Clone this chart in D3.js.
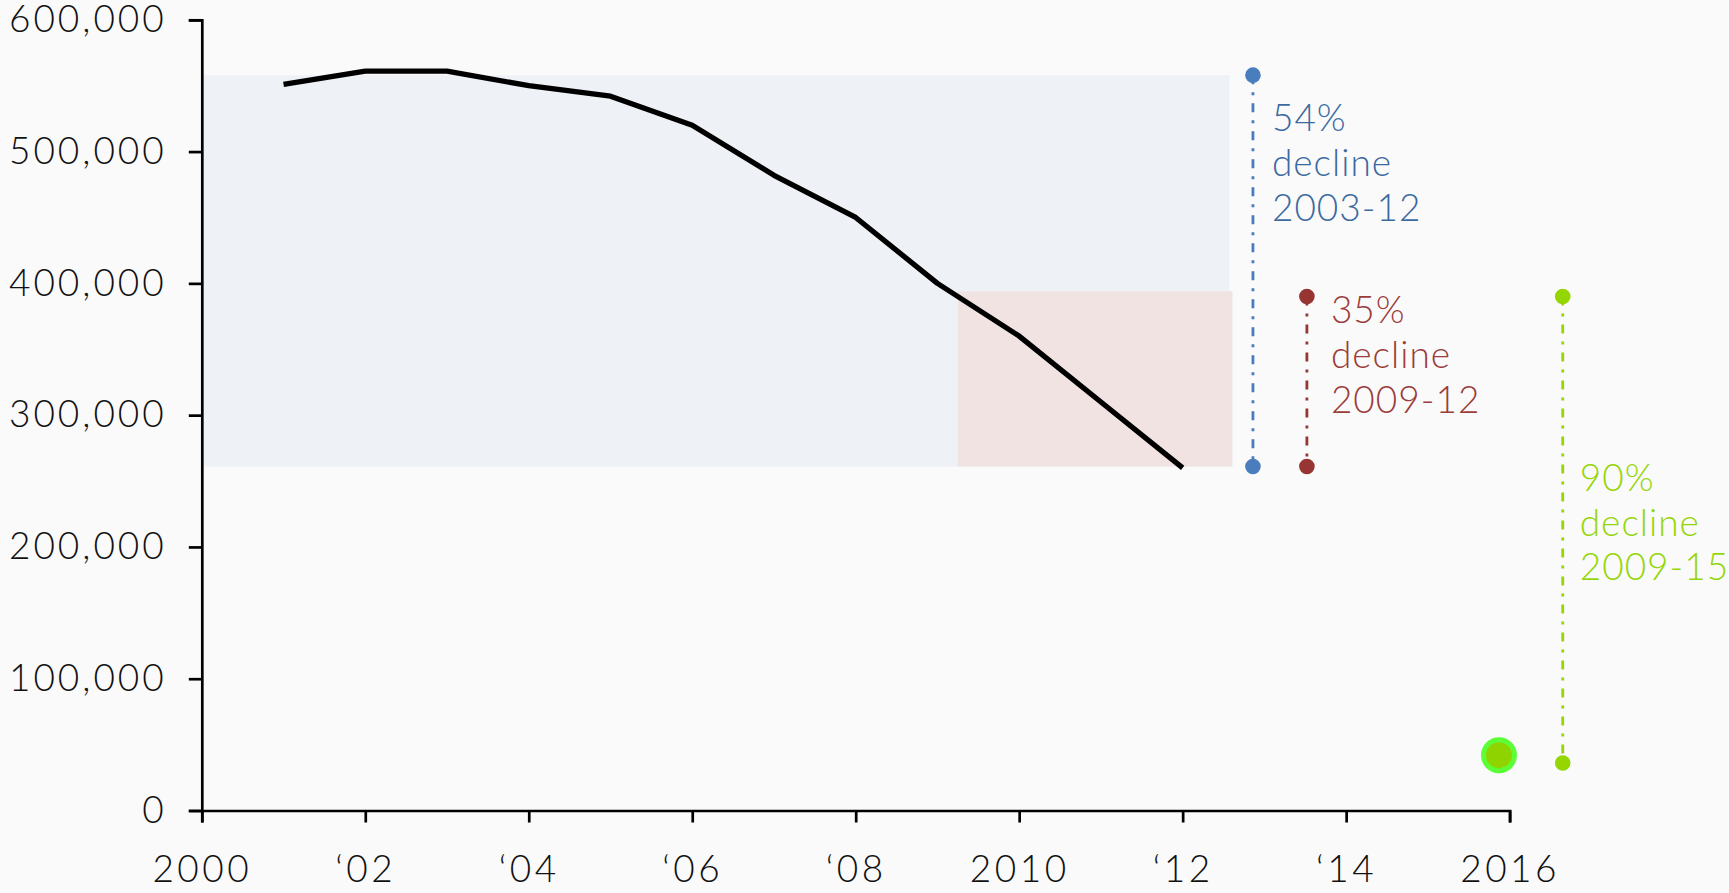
<!DOCTYPE html>
<html>
<head>
<meta charset="utf-8">
<script src="https://cdn.jsdelivr.net/npm/d3@7"></script>
<style>
  html, body { margin: 0; padding: 0; background: #fafafa; }
  svg { display: block; }
  text { font-family: Lato, "Open Sans", sans-serif; font-weight: 300; }
</style>
</head>
<body>
<svg id="chart" width="1729" height="893"></svg>
<script>
// ---- data ----
const years = [2001, 2002, 2003, 2004, 2005, 2006, 2007, 2008, 2009, 2010, 2011, 2012];
const values = [551000, 561000, 561000, 550000, 542000, 520000, 482000, 450000, 400000, 360000, 310000, 260000];

const yTicks = [0, 100000, 200000, 300000, 400000, 500000, 600000];
const xTicks = [2000, 2002, 2004, 2006, 2008, 2010, 2012, 2014, 2016];
const xTickLabels = ["2000", "\u201802", "\u201804", "\u201806", "\u201808", "2010", "\u201812", "\u201814", "2016"];

// shaded periods
const bandStart = [2000, 2009.25];
const bandEnd = [2012.57, 2012.61];
const bandLow = [261000, 261000];
const bandHigh = [558000, 394000];

// decline annotations
const annoPct = ["54%", "35%", "90%"];
const annoWord = ["decline", "decline", "decline"];
const annoPeriod = ["2003-12", "2009-12", "2009-15"];
const annoX = [2012.86, 2013.52, 2016.65];
const annoTop = [558000, 390000, 390000];
const annoBottom = [261000, 261000, 36000];

// highlighted 2015 estimate
const pointYear = [2015.87];
const pointValue = [42000];

// ---- drawing ----
const svg = d3.select("#chart");
const x = d3.scaleLinear().domain([2000, 2016]).range([201.8, 1509.6]);
const y = d3.scaleLinear().domain([0, 600000]).range([810.5, 19.8]);

const bandFill = ["#eef1f6", "#f2e3e3"];
svg.append("g").selectAll("rect").data(bandStart).join("rect")
  .attr("x", (d, i) => x(d))
  .attr("width", (d, i) => x(bandEnd[i]) - x(d))
  .attr("y", (d, i) => y(bandHigh[i]))
  .attr("height", (d, i) => y(bandLow[i]) - y(bandHigh[i]))
  .attr("fill", (d, i) => bandFill[i]);

// axes
const yAxis = d3.axisLeft(y).tickValues(yTicks).tickFormat(d3.format(",")).tickSize(13).tickPadding(22);
const gy = svg.append("g").attr("transform", `translate(${x(2000)},0)`).call(yAxis);
const xAxis = d3.axisBottom(x).tickValues(xTicks).tickFormat((d, i) => xTickLabels[i]).tickSize(12);
const gx = svg.append("g").attr("transform", `translate(0,${y(0)})`).call(xAxis);

[gx, gy].forEach(g => {
  g.select(".domain").attr("stroke", "#000").attr("stroke-width", 2.7);
  g.selectAll(".tick line").attr("stroke", "#000").attr("stroke-width", 2.7);
  g.selectAll(".tick text")
    .attr("fill", "#111")
    .style("font-family", "Lato, sans-serif")
    .style("font-weight", 300)
    .style("font-size", "37px")
    .style("letter-spacing", "3.5px");
});
gx.selectAll(".tick text").attr("y", 71).attr("dy", 0);
gy.selectAll(".tick text").style("letter-spacing", "3px");

// line
const line = d3.line().x((d, i) => x(years[i])).y(d => y(d));
svg.append("path").datum(values)
  .attr("d", line)
  .attr("fill", "none")
  .attr("stroke", "#000")
  .attr("stroke-width", 5.3)
  .attr("stroke-linejoin", "round");

// annotations
const lineColor = ["#4a7dbd", "#963532", "#95d600"];
const textColor = ["#3c6aa0", "#9a3d3a", "#95d60a"];
const textY = [131, 323, 490.7];
const textOffset = [19, 24, 17];
const ag = svg.append("g");
annoX.forEach((ax, i) => {
  const g = ag.append("g");
  g.append("line")
    .attr("x1", x(ax)).attr("x2", x(ax))
    .attr("y1", y(annoTop[i])).attr("y2", y(annoBottom[i]))
    .attr("stroke", lineColor[i])
    .attr("stroke-width", 2.8)
    .attr("stroke-dasharray", "9,8,3,8");
  [annoTop[i], annoBottom[i]].forEach(v => {
    g.append("circle").attr("cx", x(ax)).attr("cy", y(v)).attr("r", 7.8).attr("fill", lineColor[i]);
  });
  const tx = x(ax) + textOffset[i];
  const t = g.append("text")
    .attr("x", tx)
    .attr("y", textY[i])
    .attr("fill", textColor[i])
    .style("font-size", "37px")
    .style("letter-spacing", "1px");
  [annoPct[i], annoWord[i], annoPeriod[i]].forEach((s, k) => {
    t.append("tspan").attr("x", tx).attr("dy", k === 0 ? 0 : 44.8).text(s);
  });
});

// highlighted point
svg.append("g").selectAll("circle").data(pointValue).join("circle")
  .attr("cx", (d, i) => x(pointYear[i]))
  .attr("cy", d => y(d))
  .attr("r", 15.5)
  .attr("fill", "#8fd400")
  .attr("stroke", "#5cff35")
  .attr("stroke-width", 5);
</script>
</body>
</html>
